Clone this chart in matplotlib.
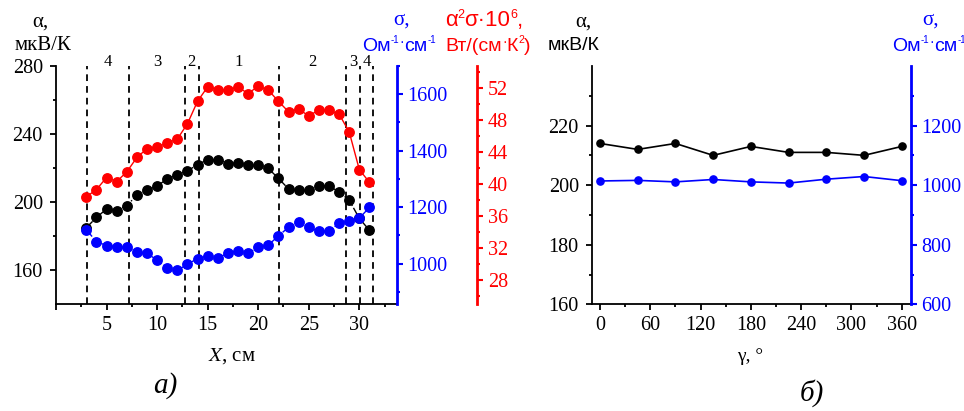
import matplotlib
matplotlib.use("Agg")
import matplotlib.pyplot as plt
from matplotlib.ticker import FixedLocator, FuncFormatter
from matplotlib.transforms import IdentityTransform

# ---------------- data: panel a ----------------
x_cm = [3, 4, 5, 6, 7, 8, 9, 10, 11, 12, 13, 14, 15, 16, 17, 18, 19, 20, 21,
        22, 23, 24, 25, 26, 27, 28, 29, 30, 31]
alpha_a = [185, 191, 196, 195, 198, 204, 207, 209.5, 213.7, 216, 218.4, 222, 225, 225,
           222.7, 223, 222, 222, 219.8, 214, 207.8, 207, 207, 209.6, 209.6, 206, 201.2,
           190.5, 183.5]
sigma_a = [1120, 1078, 1064, 1060, 1058, 1041, 1037, 1012, 986, 976, 998, 1018, 1027,
           1020, 1037, 1046, 1037, 1058, 1066, 1098, 1129, 1147, 1129, 1114, 1114, 1144,
           1150, 1161, 1199]
pf_a = [38.4, 39.3, 40.8, 40.3, 41.5, 43.3, 44.4, 44.6, 45.1, 45.6, 47.5, 50.3, 52.1,
        51.75, 51.7, 52.1, 51.25, 52.2, 51.7, 50.3, 49.0, 49.3, 48.5, 49.2, 49.2, 48.7,
        46.5, 41.8, 40.2]
zone_bounds = [3.08, 7.19, 12.77, 14.1, 22.1, 28.7, 30.1, 31.4]
zone_labels = ["4", "3", "2", "1", "2", "3", "4"]

# ---------------- data: panel b ----------------
gamma = [0, 45, 90, 135, 180, 225, 270, 315, 360]
alpha_b = [214, 212, 214, 210, 213, 211, 211, 210, 213]
sigma_b = [1014, 1016, 1011, 1019, 1011, 1007, 1020, 1029, 1015]

BLUE = "#0000ff"
RED = "#ff0000"
SERIF = ["Liberation Serif", "DejaVu Serif"]
SANS = ["Liberation Sans", "DejaVu Sans"]

plt.rcParams["font.family"] = "serif"
plt.rcParams["font.serif"] = ["Liberation Serif", "DejaVu Serif"]

W, H = 964, 411
fig = plt.figure(figsize=(W / 100, H / 100), dpi=100)
renderer = fig.canvas.get_renderer()


def fx(px):
    return px / W


def fy(py):
    return 1 - py / H


def rich(xc, ybase, pieces, color="black", family=SANS):
    """Place text pieces (string, size, raise_px) side by side, centred at xc."""
    objs = []
    total = 0
    for s, size, dy in pieces:
        t = fig.text(0, 0, s, fontsize=size, family=family, color=color,
                     ha="left", va="baseline", transform=IdentityTransform())
        w = t.get_window_extent(renderer).width
        objs.append((t, dy, w))
        total += w
    x = xc - total / 2
    for t, dy, w in objs:
        t.set_position((x, H - ybase + dy))
        x += w


TICK_FS = 14.5


def style_ticks(ax, axis, color="black", width=1.3, pad=4):
    ax.tick_params(axis=axis, which="major", direction="out", length=4.5, width=width,
                   colors=color, labelsize=TICK_FS, pad=pad)
    ax.tick_params(axis=axis, which="minor", direction="out", length=2.5, width=width,
                   colors=color)


# ================= panel a =================
ax_l, ax_r, ax_t, ax_b = 56, 396.7, 66, 304.3
ax1 = fig.add_axes([fx(ax_l), fy(ax_b), fx(ax_r - ax_l), (ax_b - ax_t) / H])
ax1.set_xlim(0, 33.7)
ax1.set_ylim(140, 280)
ax1.spines["top"].set_visible(False)
ax1.spines["right"].set_visible(False)
for s in ("left", "bottom"):
    ax1.spines[s].set_linewidth(1.3)
ax1.xaxis.set_major_locator(FixedLocator([0, 5, 10, 15, 20, 25, 30]))
ax1.xaxis.set_minor_locator(FixedLocator([2.5, 7.5, 12.5, 17.5, 22.5, 27.5, 32.5]))
ax1.xaxis.set_major_formatter(FuncFormatter(lambda v, p: "" if v == 0 else f"{v:g}"))
ax1.yaxis.set_major_locator(FixedLocator([160, 200, 240, 280]))
ax1.yaxis.set_minor_locator(FixedLocator([180, 220, 260]))
style_ticks(ax1, "x", pad=4)
style_ticks(ax1, "y", pad=5)

for xb in zone_bounds:
    ax1.axvline(xb, color="black", lw=1.3, ls=(0, (3.7, 2.8)), zorder=1)
for i, lab in enumerate(zone_labels):
    xm = (zone_bounds[i] + zone_bounds[i + 1]) / 2
    ax1.text(xm, 1.018, lab, transform=ax1.get_xaxis_transform(), ha="center",
             va="center", fontsize=12, family=SERIF, clip_on=False)

ax1.plot(x_cm, alpha_a, color="black", lw=1.0, ls="-.", marker="o", ms=6.8,
         zorder=4, clip_on=False)

ax2 = ax1.twinx()
ax2.set_ylim(856, 1700)
for s in ("top", "left", "bottom"):
    ax2.spines[s].set_visible(False)
ax2.spines["right"].set_color(BLUE)
ax2.spines["right"].set_linewidth(2)
ax2.yaxis.set_major_locator(FixedLocator([1000, 1200, 1400, 1600]))
ax2.yaxis.set_minor_locator(FixedLocator([900, 1100, 1300, 1500, 1700]))
style_ticks(ax2, "y", color=BLUE, width=1.5, pad=3)
ax2.plot(x_cm, sigma_a, color=BLUE, lw=1.0, ls="-.", marker="o", ms=6.8, zorder=4)

ax3 = ax1.twinx()
ax3.set_ylim(25, 54.7)
for s in ("top", "left", "bottom"):
    ax3.spines[s].set_visible(False)
ax3.spines["right"].set_position(("axes", (477.3 - ax_l) / (ax_r - ax_l)))
ax3.spines["right"].set_color(RED)
ax3.spines["right"].set_linewidth(2)
ax3.yaxis.set_major_locator(FixedLocator([28, 32, 36, 40, 44, 48, 52]))
ax3.yaxis.set_minor_locator(FixedLocator([26, 30, 34, 38, 42, 46, 50, 54]))
style_ticks(ax3, "y", color=RED, width=1.5, pad=3)
ax3.plot(x_cm, pf_a, color=RED, lw=1.0, ls="-", marker="o", ms=6.8, zorder=4)

# axis titles panel a
fig.text(fx(40), fy(22), "α,", ha="center", va="center", fontsize=15, family=SERIF)
fig.text(fx(43), fy(46), "мкВ/К", ha="center", va="center", fontsize=15, family=SERIF)
fig.text(fx(402), fy(20), "σ,", ha="center", va="center", fontsize=15, family=SERIF,
         color=BLUE)
rich(399, 51, [("Ом", 14, 0), ("-1", 7, 8), ("·", 10, 5), ("см", 14, 0), ("-1", 7, 8)],
     color=BLUE)
rich(484, 26, [("α", 16, 0), ("2", 9, 8), ("σ·10", 16, 0), ("6", 9, 8),
               (",", 16, 0)], color=RED)
rich(488, 51, [("Вт/(см", 14, 0), ("·", 10, 5), ("К", 14, 0), ("2", 7.5, 8),
               (")", 14, 0)], color=RED)

fig.text(fx(232), fy(356), r"$\mathit{X}$, см", ha="center", va="center", fontsize=15,
         family=SERIF, math_fontfamily="stix")
fig.text(fx(165), fy(386), "а)", ha="center", va="center", fontsize=21,
         family=SERIF, style="italic")

# ================= panel b =================
bx_l, bx_r = 592, 911
bx1 = fig.add_axes([fx(bx_l), fy(ax_b), fx(bx_r - bx_l), (ax_b - ax_t) / H])
bx1.set_xlim(-9.5, 371)
bx1.set_ylim(160, 240)
bx1.spines["top"].set_visible(False)
bx1.spines["right"].set_visible(False)
for s in ("left", "bottom"):
    bx1.spines[s].set_linewidth(1.3)
bx1.xaxis.set_major_locator(FixedLocator([0, 60, 120, 180, 240, 300, 360]))
bx1.xaxis.set_minor_locator(FixedLocator([30, 90, 150, 210, 270, 330]))
bx1.yaxis.set_major_locator(FixedLocator([160, 180, 200, 220]))
bx1.yaxis.set_minor_locator(FixedLocator([170, 190, 210, 230]))
style_ticks(bx1, "x", pad=4)
style_ticks(bx1, "y", pad=5)
bx1.plot(gamma, alpha_b, color="black", lw=1.2, marker="o", ms=5.2, zorder=4)

bx2 = bx1.twinx()
bx2.set_ylim(600, 1400)
for s in ("top", "left", "bottom"):
    bx2.spines[s].set_visible(False)
bx2.spines["right"].set_color(BLUE)
bx2.spines["right"].set_linewidth(2)
bx2.yaxis.set_major_locator(FixedLocator([600, 800, 1000, 1200]))
bx2.yaxis.set_minor_locator(FixedLocator([700, 900, 1100, 1300]))
style_ticks(bx2, "y", color=BLUE, width=1.5, pad=3)
bx2.plot(gamma, sigma_b, color=BLUE, lw=1.2, marker="o", ms=5.2, zorder=4)

fig.text(fx(583), fy(22), "α,", ha="center", va="center", fontsize=15, family=SERIF)
fig.text(fx(574), fy(46), "мкВ/К", ha="center", va="center", fontsize=14, family=SANS)
fig.text(fx(931), fy(20), "σ,", ha="center", va="center", fontsize=15, family=SERIF,
         color=BLUE)
rich(929, 51, [("Ом", 14, 0), ("-1", 7, 8), ("·", 10, 5), ("см", 14, 0), ("-1", 7, 8)],
     color=BLUE)
fig.text(fx(750), fy(356), "γ, °", ha="center", va="center", fontsize=14, family=SERIF)
fig.text(fx(812), fy(393), "б)", ha="center", va="center", fontsize=21,
         family=SERIF, style="italic")

fig.savefig("out.png", dpi=100)
